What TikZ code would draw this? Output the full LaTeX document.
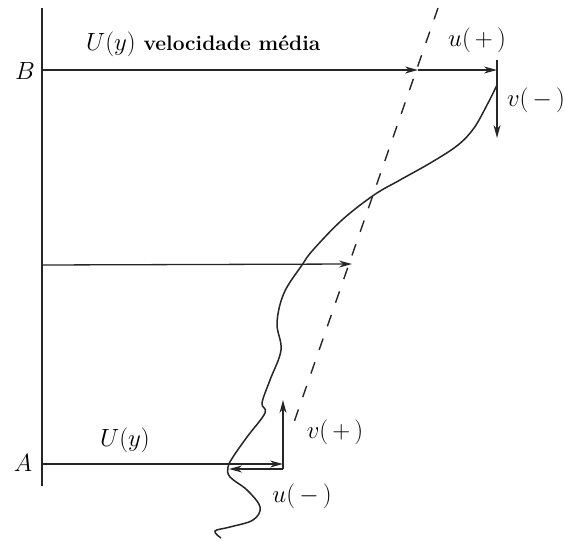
\documentclass[tikz,border=0pt]{standalone}
\usetikzlibrary{arrows.meta}
\begin{document}
\begin{tikzpicture}[x=1pt,y=-1pt,
  ln/.style={line width=1.3pt, draw=black!85},
  arr/.style={ln, -{Stealth[length=13pt,width=7pt]}},
  lbl/.style={font=\fontsize{26}{30}\selectfont, inner sep=0pt},
  dsh/.style={line width=1.4pt, draw=black!85, dash pattern=on 12pt off 13pt}]
\useasboundingbox (0,0) rectangle (565,541);
% axis
\coordinate (top) at (42,8);
\coordinate (bot) at (42,486);
\draw[ln] (top) -- (bot);
% B level
\coordinate (B0) at (42,70);
\coordinate (Bm) at (418,70);
\coordinate (Bu) at (497,70);
\coordinate (Bt) at (497,60);
\coordinate (Bv) at (497,138);
\draw[arr] (B0) -- (Bm);
\draw[arr] (Bm) -- (Bu);
\draw[arr] (Bt) -- (Bv);
% middle
\coordinate (M0) at (42,265);
\coordinate (Mm) at (352,264);
\draw[arr] (M0) -- (Mm);
% A level
\coordinate (A0) at (42,464);
\coordinate (Am) at (283,464);
\coordinate (Ab) at (283,469);
\coordinate (Au) at (229,469);
\coordinate (Av) at (283,400);
\draw[arr] (A0) -- (Am);
\draw[arr] (Ab) -- (Au);
\draw[arr] (Ab) -- (Av);
% dashed mean profile
\coordinate (d1) at (438,8);
\coordinate (d2) at (292,428);
\draw[dsh] (d1) -- (d2);
% instantaneous profile
\draw[ln, line width=1.5pt] plot[smooth, tension=0.6] coordinates {
 (497,85) (487,105) (474,128) (458,145) (432,162) (400,180) (374,195)
 (342,220) (313,250) (302,265) (284,293) (277,323) (281,350) (270,380)
 (262,403) (265,413) (247,437) (233,457) (228,467) (230,477) (247,490)
 (260,507) (253,520) (230,527) (215,531) (221,538)};
% labels
\node[lbl] (lB) at (25,71) {$B$};
\node[lbl] (lA) at (23,463) {$A$};
\node[lbl, anchor=west] (lU) at (86,44) {$U(y)$\ \textbf{\fontsize{21}{24}\selectfont velocidade média}};
\node[lbl] (lup) at (477,40) {$u(\,+\,)$};
\node[lbl] (lvm) at (536,100) {$v(\,-\,)$};
\node[lbl] (lUA) at (125,440) {$U(y)$};
\node[lbl] (lvp) at (335,432) {$v(\,+\,)$};
\node[lbl] (lum) at (302,496) {$u(\,-\,)$};
\end{tikzpicture}
\end{document}
